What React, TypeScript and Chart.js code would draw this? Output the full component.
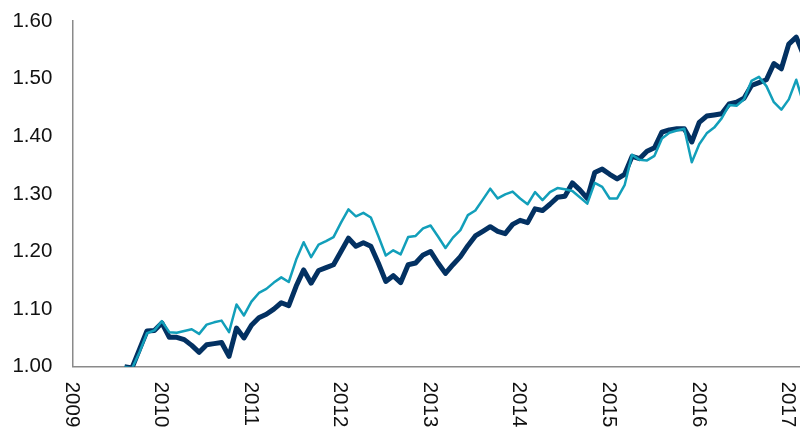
import React, { useEffect, useRef } from "react";
import { Chart, registerables } from "chart.js";

Chart.register(...registerables);

// Month-end observations, July 2009 .. February 2017
const FIRST_MONTH = "2009-07";
const LAST_MONTH = "2017-02";

const NAVY_SERIES = [
  1.000, 0.998, 1.030, 1.062, 1.063, 1.076, 1.051, 1.051, 1.047, 1.037,
  1.025, 1.038, 1.040, 1.042, 1.018, 1.067, 1.050, 1.072, 1.085, 1.091,
  1.100, 1.111, 1.106, 1.140, 1.168, 1.145, 1.167, 1.172, 1.177, 1.200,
  1.223, 1.209, 1.215, 1.209, 1.180, 1.148, 1.158, 1.146, 1.177, 1.180,
  1.194, 1.200, 1.180, 1.162, 1.177, 1.191, 1.210, 1.227, 1.235, 1.243,
  1.235, 1.231, 1.247, 1.254, 1.250, 1.274, 1.271, 1.282, 1.294, 1.296,
  1.319, 1.307, 1.292, 1.337, 1.343, 1.334, 1.326, 1.334, 1.365, 1.361,
  1.374, 1.380, 1.407, 1.411, 1.413, 1.413, 1.390, 1.424, 1.435, 1.437,
  1.439, 1.456, 1.459, 1.466, 1.488, 1.493, 1.498, 1.526, 1.517, 1.560,
  1.572, 1.540,
];

const TEAL_SERIES = [
  1.000, 0.997, 1.025, 1.058, 1.063, 1.079, 1.060, 1.059, 1.062, 1.065,
  1.057, 1.073, 1.077, 1.080, 1.060, 1.108, 1.089, 1.113, 1.128, 1.135,
  1.146, 1.155, 1.147, 1.186, 1.216, 1.190, 1.212, 1.218, 1.225, 1.250,
  1.273, 1.261, 1.267, 1.259, 1.227, 1.193, 1.202, 1.195, 1.225, 1.227,
  1.240, 1.245, 1.226, 1.206, 1.224, 1.237, 1.263, 1.271, 1.290, 1.309,
  1.292, 1.299, 1.304, 1.292, 1.282, 1.303, 1.289, 1.303, 1.310, 1.308,
  1.305, 1.294, 1.283, 1.319, 1.312, 1.292, 1.292, 1.315, 1.368, 1.359,
  1.358, 1.366, 1.396, 1.406, 1.410, 1.413, 1.355, 1.386, 1.405, 1.415,
  1.431, 1.454, 1.453, 1.464, 1.496, 1.503, 1.487, 1.459, 1.446, 1.464,
  1.498, 1.455,
];

const YEAR_LABELS = ["2009", "2010", "2011", "2012", "2013", "2014", "2015", "2016", "2017"];
const Y_MIN = 1.0;
const Y_MAX = 1.6;
const Y_STEP = 0.1;

const BASE_YEAR = 2009;
const X_MAX_MONTHS = 97.5; // axis ends mid-February 2017

function buildMonths(first: string, last: string): string[] {
  const [fy, fm] = first.split("-").map(Number);
  const [ly, lm] = last.split("-").map(Number);
  const out: string[] = [];
  let y = fy, m = fm;
  while (y < ly || (y === ly && m <= lm)) {
    out.push(`${y}-${String(m).padStart(2, "0")}`);
    m++;
    if (m > 12) { m = 1; y++; }
  }
  return out;
}

const MONTHS = buildMonths(FIRST_MONTH, LAST_MONTH);

// month-end position measured in months since Jan 1 of BASE_YEAR
function monthEndPos(label: string): number {
  const [y, m] = label.split("-").map(Number);
  return (y - BASE_YEAR) * 12 + m;
}

const FONT_FAMILY = "'Liberation Sans', Arial, Helvetica, sans-serif";

const rotatedYearLabels = {
  id: "rotatedYearLabels",
  afterDraw(chart: any) {
    const xs = chart.scales.x;
    const ctx = chart.ctx as CanvasRenderingContext2D;
    ctx.save();
    ctx.font = `20.5px ${FONT_FAMILY}`;
    ctx.fillStyle = "#111111";
    ctx.textAlign = "left";
    ctx.textBaseline = "middle";
    xs.ticks.forEach((t: any) => {
      if (Math.abs(t.value % 12) > 1e-6) return;
      const idx = Math.round(t.value / 12);
      const label = YEAR_LABELS[idx];
      if (!label) return;
      const x = xs.getPixelForValue(t.value);
      ctx.save();
      ctx.translate(x, xs.top + 15);
      ctx.rotate(Math.PI / 2);
      ctx.fillText(label, 0, 1);
      ctx.restore();
    });
    ctx.restore();
  },
};

export default function App() {
  const canvasRef = useRef<HTMLCanvasElement | null>(null);

  useEffect(() => {
    if (!canvasRef.current) return;
    const chart = new Chart(canvasRef.current, {
      type: "line",
      data: {
        datasets: [
          {
            label: "Series A",
            data: MONTHS.map((mo, i) => ({ x: monthEndPos(mo), y: NAVY_SERIES[i] })),
            borderColor: "#033162",
            backgroundColor: "#033162",
            borderWidth: 5,
            pointRadius: 0,
            tension: 0,
            borderJoinStyle: "round",
            borderCapStyle: "butt",
            order: 1,
          },
          {
            label: "Series B",
            data: MONTHS.map((mo, i) => ({ x: monthEndPos(mo), y: TEAL_SERIES[i] })),
            borderColor: "#129fba",
            backgroundColor: "#129fba",
            borderWidth: 2.5,
            pointRadius: 0,
            tension: 0,
            borderJoinStyle: "round",
            order: 0,
          },
        ],
      },
      options: {
        animation: false,
        responsive: false,
        devicePixelRatio: 1,
        layout: { padding: { top: 21, right: 0, left: 0, bottom: 0 } },
        plugins: {
          legend: { display: false },
          tooltip: { enabled: false },
        },
        scales: {
          x: {
            type: "linear",
            min: 0,
            max: X_MAX_MONTHS,
            grid: { display: false, drawTicks: false },
            border: { display: true, color: "#8a8a8a", width: 1.5 },
            ticks: { display: false, stepSize: 12, includeBounds: false },
            afterFit: (s: any) => {
              s.height = 64.3;
              s.paddingLeft = 0;
              s.paddingRight = 0;
            },
          },
          y: {
            type: "linear",
            min: Y_MIN,
            max: Y_MAX,
            grid: { display: false, drawTicks: false },
            border: { display: true, color: "#8a8a8a", width: 1.5 },
            ticks: {
              stepSize: Y_STEP,
              padding: 20,
              color: "#111111",
              font: { family: FONT_FAMILY, size: 20.5 },
              callback: (v: any) => Number(v).toFixed(2),
            },
            afterFit: (s: any) => {
              s.width = 72.3;
              s.paddingTop = 0;
              s.paddingBottom = 0;
            },
          },
        },
      },
      plugins: [rotatedYearLabels],
    });
    return () => chart.destroy();
  }, []);

  return (
    <div style={{ position: "fixed", left: 0, top: 0, width: 800, height: 431, background: "#ffffff" }}>
      <canvas ref={canvasRef} width={800} height={431} style={{ display: "block" }} />
    </div>
  );
}
